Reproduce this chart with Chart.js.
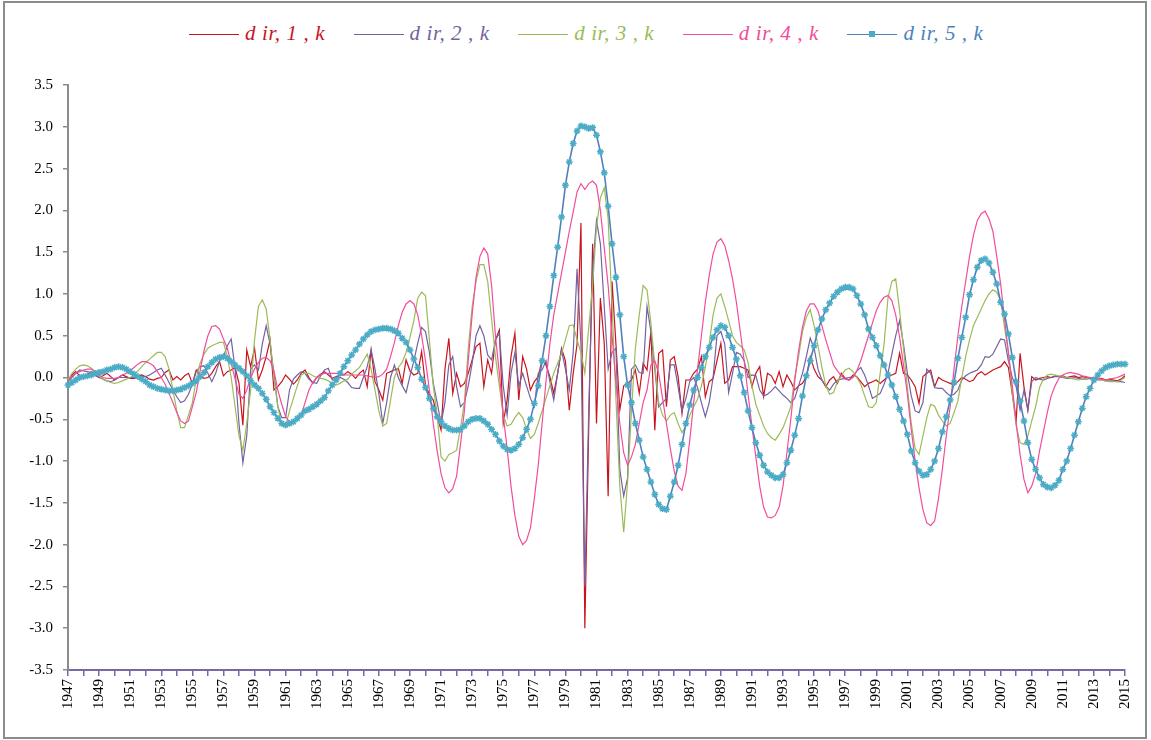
<!DOCTYPE html>
<html>
<head>
<meta charset="utf-8">
<script src="https://cdn.jsdelivr.net/npm/chart.js@4.4.1/dist/chart.umd.min.js"></script>
<style>
  body { margin: 0; background: #fff; }
  #frame { position: absolute; left: 3px; top: 1px; width: 1140px; height: 734px; border: 2px solid #8c8c8c; }
  #wrap { position: absolute; left: 0; top: 0; width: 1151px; height: 740px; }
  .item { position: absolute; top: 21px; height: 26px; font-family: "Liberation Serif", "Times New Roman", serif; font-style: italic; font-size: 21px; letter-spacing: 0.6px; white-space: nowrap; }
  .item .ln { position: absolute; left: 0; top: 13px; width: 50px; height: 0; border-top: 1.5px solid; }
  .item .mk { position: absolute; left: 22px; top: 10px; width: 6px; height: 6px; background: #4bacc6; }
  .item .tx { position: absolute; left: 56px; top: 0; }
</style>
</head>
<body>
<div id="frame"></div>
<div id="legend"></div>
<div id="wrap"><canvas id="chart"></canvas></div>
<script>
// quarterly observations 1947Q1 .. 2015Q1
const firstYear = 1947;
const quarterCount = 273;

const tickYears = ["1947","1949","1951","1953","1955","1957","1959","1961","1963","1965",
  "1967","1969","1971","1973","1975","1977","1979","1981","1983","1985","1987","1989",
  "1991","1993","1995","1997","1999","2001","2003","2005","2007","2009","2011","2013","2015"];

const seriesNames = ["d ir, 1 , k", "d ir, 2 , k", "d ir, 3 , k", "d ir, 4 , k", "d ir, 5 , k"];
const seriesColors = ["#c8141e", "#7462a2", "#9bbb59", "#f24d9a", "#4f81bd"];

const dir1 = [
  -0.05,0.03,0.07,0.02,0.00,0.04,0.07,0.03,0.00,0.02,
  0.05,0.01,-0.03,0.00,0.03,0.01,-0.01,-0.01,0.01,0.03,
  0.01,-0.02,-0.03,-0.01,0.00,0.06,0.09,-0.03,0.01,-0.03,
  0.02,0.05,-0.07,0.09,0.03,-0.01,0.00,0.05,0.13,0.19,
  0.02,0.07,0.09,0.12,-0.07,-0.57,0.33,0.13,0.35,-0.03,
  0.09,0.25,0.45,-0.15,-0.11,-0.05,0.03,-0.02,-0.08,-0.03,
  0.05,0.09,0.00,-0.07,0.00,0.04,0.07,0.03,-0.01,0.01,
  0.03,0.03,0.07,0.04,-0.01,0.05,0.09,-0.11,0.33,-0.05,
  -0.15,-0.27,0.05,0.07,0.09,0.11,-0.07,0.21,0.08,0.03,
  0.05,0.31,-0.10,-0.20,-0.27,-0.47,-0.63,0.10,0.47,-0.19,
  0.05,-0.11,-0.07,0.05,0.21,0.37,0.41,-0.11,0.21,0.05,
  0.45,0.57,-0.55,-0.27,0.25,0.53,-0.27,0.25,0.10,-0.15,
  -0.05,0.01,0.21,0.15,0.01,-0.19,0.05,0.35,0.20,-0.39,
  0.05,0.40,1.85,-3.00,-0.60,1.60,-0.55,0.95,0.40,-1.42,
  1.15,0.40,-0.39,-0.10,-0.07,-0.03,0.09,-0.19,0.17,0.09,
  0.55,-0.63,0.29,0.33,-0.35,0.21,0.25,0.01,-0.43,-0.03,
  -0.03,0.05,0.10,0.25,-0.23,-0.05,-0.01,0.20,0.41,-0.07,
  -0.03,0.13,0.13,0.13,0.11,0.09,-0.11,0.05,0.13,-0.23,
  0.05,0.02,-0.07,0.07,-0.11,0.03,-0.05,-0.15,-0.10,-0.07,
  0.01,0.25,0.10,0.01,-0.03,-0.11,-0.03,0.01,-0.07,0.05,
  -0.01,-0.03,0.03,0.01,-0.05,-0.11,-0.07,-0.05,-0.03,-0.07,
  -0.03,0.01,0.03,0.05,0.29,0.05,0.03,-0.03,-0.11,-0.31,
  0.01,0.05,0.09,-0.11,0.00,-0.03,-0.05,-0.07,-0.09,-0.05,
  0.00,-0.02,-0.05,-0.03,0.04,0.07,0.03,0.06,0.09,0.11,
  0.13,0.19,0.12,-0.20,-0.51,0.29,-0.11,-0.39,0.01,-0.03,
  -0.01,0.00,0.01,0.00,0.02,0.01,0.02,0.00,0.01,0.02,
  0.00,0.01,0.00,-0.01,0.00,-0.02,-0.01,-0.03,-0.02,-0.03,
  -0.04,-0.02,0.02
];

const dir2 = [
  -0.05,0.00,0.05,0.09,0.08,0.07,0.06,0.03,0.00,-0.02,
  -0.04,-0.05,-0.03,0.00,0.00,0.00,0.00,0.00,0.01,0.01,
  0.01,0.03,0.06,0.09,0.11,0.03,-0.06,-0.15,-0.23,-0.30,
  -0.28,-0.20,-0.08,0.07,0.13,0.14,0.05,-0.05,0.05,0.20,
  0.25,0.38,0.46,0.10,-0.55,-1.02,-0.70,0.10,0.15,0.09,
  0.40,0.62,0.40,0.05,-0.35,-0.48,-0.48,-0.15,-0.02,0.03,
  0.07,0.05,-0.02,-0.06,-0.07,0.02,0.09,0.11,-0.03,-0.03,
  0.00,-0.02,-0.06,-0.12,-0.13,-0.13,0.00,0.13,0.33,0.10,
  -0.20,-0.55,-0.30,0.00,0.15,0.00,-0.10,-0.18,0.02,0.20,
  0.41,0.60,0.55,0.30,-0.07,-0.30,-0.55,-0.30,0.15,0.25,
  -0.11,-0.35,-0.30,-0.10,0.17,0.50,0.62,0.50,0.27,0.21,
  0.45,0.53,-0.10,-0.45,0.05,0.30,-0.10,0.05,-0.10,-0.25,
  -0.35,0.05,0.09,0.20,-0.05,-0.27,0.05,0.33,0.10,-0.15,
  0.30,1.30,0.40,-2.50,-0.40,1.30,1.88,1.60,0.85,0.10,
  0.30,0.35,-1.10,-1.42,-1.20,0.10,0.15,0.06,0.05,0.85,
  0.55,0.10,-0.35,-0.30,-0.25,0.15,0.15,-0.11,-0.40,-0.25,
  -0.05,0.00,-0.12,-0.30,-0.47,-0.30,0.00,0.50,0.55,0.40,
  -0.18,0.05,0.30,0.28,0.20,0.00,0.03,0.02,-0.15,-0.22,
  -0.20,-0.16,-0.11,-0.16,-0.21,-0.25,-0.30,-0.25,-0.10,0.05,
  0.25,0.47,0.35,0.10,-0.03,-0.10,-0.15,-0.08,-0.03,-0.02,
  -0.01,0.00,0.01,0.08,0.12,0.03,-0.10,-0.25,-0.22,-0.19,
  -0.08,0.05,0.28,0.50,0.68,0.40,0.05,-0.22,-0.40,-0.42,
  -0.30,0.10,0.05,-0.12,-0.13,-0.13,-0.18,-0.22,-0.20,-0.15,
  -0.03,0.02,0.05,0.07,0.09,0.15,0.25,0.24,0.28,0.37,
  0.46,0.45,0.20,0.00,-0.11,-0.39,-0.15,-0.39,-0.05,0.00,
  -0.02,-0.03,-0.01,0.00,0.01,0.01,0.00,-0.01,-0.01,0.00,
  -0.01,-0.02,-0.02,-0.01,-0.02,-0.03,-0.03,-0.04,-0.04,-0.04,
  -0.05,-0.05,-0.06
];

const dir3 = [
  -0.03,0.05,0.10,0.14,0.15,0.14,0.11,0.07,0.02,-0.02,
  -0.04,-0.06,-0.07,-0.06,-0.04,-0.02,0.00,0.03,0.08,0.13,
  0.18,0.22,0.26,0.30,0.30,0.25,0.10,-0.15,-0.40,-0.60,
  -0.60,-0.45,-0.30,-0.02,0.17,0.28,0.35,0.38,0.40,0.42,
  0.42,0.25,0.00,-0.35,-0.70,-0.87,-0.55,-0.15,0.45,0.85,
  0.93,0.82,0.45,0.00,-0.35,-0.58,-0.58,-0.40,-0.25,-0.10,
  0.03,0.05,0.05,0.02,0.00,-0.01,-0.02,-0.04,-0.07,-0.09,
  -0.07,-0.04,-0.02,0.04,0.08,0.12,0.20,0.28,0.10,-0.15,
  -0.40,-0.58,-0.55,-0.27,0.00,0.12,0.18,0.30,0.48,0.68,
  0.95,1.02,0.98,0.45,-0.10,-0.45,-0.95,-1.00,-0.92,-0.90,
  -0.87,-0.60,-0.30,0.35,0.85,1.15,1.35,1.35,1.15,0.70,
  0.25,-0.10,-0.45,-0.58,-0.56,-0.48,-0.42,-0.48,-0.62,-0.73,
  -0.68,-0.55,-0.40,-0.25,-0.10,0.05,0.17,0.28,0.45,0.62,
  0.63,0.45,0.30,0.05,0.60,1.10,1.80,2.15,2.27,1.90,
  0.85,-0.25,-1.30,-1.85,-1.25,-0.40,0.35,0.75,1.10,1.05,
  0.65,0.15,-0.30,-0.45,-0.52,-0.45,-0.42,-0.55,-0.66,-0.58,
  -0.45,-0.35,-0.26,-0.10,0.12,0.40,0.75,0.95,1.00,0.85,
  0.68,0.50,0.42,0.38,0.33,0.18,-0.10,-0.32,-0.45,-0.58,
  -0.67,-0.72,-0.75,-0.68,-0.60,-0.48,-0.35,0.00,0.25,0.55,
  0.72,0.81,0.62,0.38,0.12,-0.10,-0.20,-0.18,-0.05,0.02,
  0.09,0.11,0.07,0.00,-0.08,-0.22,-0.35,-0.36,-0.30,0.05,
  0.40,0.95,1.15,1.18,0.80,0.35,-0.12,-0.55,-0.85,-0.92,
  -0.70,-0.48,-0.32,-0.34,-0.45,-0.52,-0.58,-0.55,-0.42,-0.28,
  0.00,0.25,0.45,0.62,0.72,0.82,0.92,1.00,1.05,1.02,
  0.92,0.60,0.30,-0.20,-0.58,-0.78,-0.80,-0.70,-0.52,-0.35,
  -0.12,-0.02,0.03,0.04,0.03,0.02,0.01,0.00,-0.01,-0.02,
  -0.03,-0.02,-0.01,0.00,-0.01,-0.02,-0.03,-0.04,-0.05,-0.05,
  -0.05,-0.03,0.00
];

const dir4 = [
  -0.05,0.02,0.05,0.07,0.09,0.10,0.10,0.07,0.03,0.00,
  -0.01,-0.01,-0.01,0.00,0.03,0.05,0.08,0.12,0.16,0.19,
  0.19,0.17,0.14,0.07,0.00,-0.08,-0.19,-0.30,-0.42,-0.52,
  -0.55,-0.52,-0.35,-0.18,0.08,0.32,0.50,0.61,0.62,0.58,
  0.46,0.35,0.17,-0.02,-0.20,-0.25,-0.15,0.00,0.10,0.18,
  0.23,0.24,0.20,0.08,-0.15,-0.32,-0.47,-0.53,-0.53,-0.50,
  -0.45,-0.30,-0.15,-0.06,0.00,0.03,0.05,0.05,0.05,0.05,
  0.04,0.03,0.03,0.03,0.03,0.03,0.03,0.02,0.01,0.00,
  0.01,0.04,0.10,0.25,0.42,0.62,0.78,0.88,0.92,0.88,
  0.75,0.50,0.20,-0.15,-0.55,-0.88,-1.15,-1.32,-1.38,-1.33,
  -1.18,-0.80,-0.40,0.20,0.75,1.20,1.45,1.55,1.48,1.10,
  0.50,0.05,-0.45,-0.85,-1.30,-1.65,-1.90,-2.00,-1.95,-1.80,
  -1.45,-1.05,-0.55,-0.05,0.40,0.75,1.00,1.25,1.50,1.75,
  1.98,2.22,2.32,2.25,2.32,2.35,2.30,2.00,1.55,1.10,
  0.50,-0.05,-0.55,-0.90,-1.05,-0.95,-0.80,-0.55,-0.30,-0.15,
  0.15,0.20,0.05,-0.25,-0.55,-0.85,-1.12,-1.30,-1.35,-1.15,
  -0.75,-0.30,0.10,0.50,0.90,1.22,1.48,1.62,1.66,1.58,
  1.40,1.18,0.90,0.55,0.20,-0.20,-0.58,-0.95,-1.30,-1.55,
  -1.67,-1.68,-1.65,-1.55,-1.30,-0.90,-0.50,-0.05,0.32,0.60,
  0.80,0.88,0.88,0.80,0.62,0.45,0.30,0.15,0.08,0.02,
  -0.02,-0.03,0.00,0.08,0.20,0.35,0.50,0.65,0.80,0.90,
  0.96,0.98,0.92,0.75,0.48,0.15,-0.20,-0.62,-1.00,-1.32,
  -1.58,-1.74,-1.77,-1.72,-1.45,-1.10,-0.70,-0.35,0.10,0.50,
  0.85,1.15,1.45,1.70,1.88,1.96,1.99,1.90,1.75,1.45,
  1.12,0.70,0.30,-0.10,-0.55,-0.92,-1.22,-1.38,-1.30,-1.15,
  -0.88,-0.65,-0.42,-0.22,-0.10,-0.01,0.03,0.05,0.06,0.05,
  0.04,0.02,0.01,0.00,0.00,-0.01,-0.02,-0.03,-0.02,-0.01,
  0.00,0.02,0.04
];

const dir5 = [
  -0.09,-0.06,-0.03,0.00,0.01,0.02,0.03,0.05,0.06,0.07,
  0.09,0.10,0.12,0.13,0.12,0.10,0.07,0.04,0.01,-0.02,
  -0.05,-0.09,-0.11,-0.13,-0.14,-0.15,-0.16,-0.16,-0.15,-0.14,
  -0.12,-0.10,-0.07,-0.04,0.01,0.06,0.13,0.18,0.22,0.24,
  0.25,0.23,0.19,0.15,0.11,0.07,0.02,-0.04,-0.09,-0.13,
  -0.19,-0.26,-0.35,-0.42,-0.49,-0.55,-0.57,-0.55,-0.53,-0.49,
  -0.45,-0.40,-0.38,-0.35,-0.32,-0.28,-0.24,-0.16,-0.09,-0.03,
  0.05,0.13,0.20,0.27,0.33,0.40,0.46,0.51,0.55,0.57,
  0.58,0.59,0.59,0.58,0.56,0.53,0.47,0.42,0.33,0.22,
  0.12,-0.02,-0.12,-0.25,-0.37,-0.47,-0.53,-0.58,-0.61,-0.63,
  -0.63,-0.62,-0.58,-0.53,-0.50,-0.49,-0.49,-0.52,-0.56,-0.62,
  -0.68,-0.76,-0.82,-0.86,-0.87,-0.85,-0.80,-0.72,-0.62,-0.50,
  -0.31,-0.10,0.20,0.50,0.85,1.22,1.56,1.92,2.30,2.58,
  2.80,2.95,3.01,3.00,2.98,2.99,2.90,2.70,2.45,2.05,
  1.60,1.20,0.75,0.25,-0.09,-0.30,-0.55,-0.75,-0.95,-1.10,
  -1.25,-1.40,-1.52,-1.57,-1.58,-1.42,-1.25,-1.05,-0.80,-0.55,
  -0.33,-0.15,0.00,0.12,0.25,0.36,0.48,0.57,0.62,0.60,
  0.50,0.36,0.22,0.02,-0.18,-0.40,-0.60,-0.78,-0.93,-1.05,
  -1.13,-1.17,-1.20,-1.20,-1.16,-1.02,-0.87,-0.69,-0.49,-0.22,
  0.02,0.20,0.38,0.57,0.70,0.81,0.89,0.97,1.02,1.06,
  1.08,1.08,1.06,0.98,0.88,0.75,0.58,0.48,0.38,0.26,
  0.15,0.03,-0.09,-0.23,-0.38,-0.52,-0.68,-0.88,-1.02,-1.12,
  -1.17,-1.16,-1.10,-1.00,-0.85,-0.65,-0.47,-0.27,-0.06,0.23,
  0.48,0.72,0.99,1.17,1.32,1.40,1.42,1.37,1.26,1.12,
  0.90,0.76,0.52,0.24,-0.05,-0.28,-0.52,-0.78,-0.98,-1.10,
  -1.20,-1.28,-1.31,-1.32,-1.29,-1.23,-1.10,-1.00,-0.85,-0.69,
  -0.53,-0.37,-0.23,-0.13,-0.03,0.03,0.08,0.12,0.14,0.15,
  0.16,0.16,0.16
];

const quarters = [];
for (let i = 0; i < quarterCount; i++) {
  quarters.push((firstYear + Math.floor(i / 4)) + "Q" + (i % 4 + 1));
}

const serif = "'Liberation Serif', 'Times New Roman', serif";
const allSeries = [dir1, dir2, dir3, dir4, dir5];

// html legend
const legend = document.getElementById("legend");
seriesNames.forEach((name, k) => {
  const item = document.createElement("div");
  item.className = "item";
  item.style.left = (189 + k * 164.6) + "px";
  item.style.color = seriesColors[k];
  let html = '<span class="ln" style="border-color:' + seriesColors[k] + '"></span>';
  if (k === 4) html += '<span class="mk"></span>';
  html += '<span class="tx">' + name + '</span>';
  item.innerHTML = html;
  legend.appendChild(item);
});

const datasets = allSeries.map((values, k) => ({
  label: seriesNames[k],
  data: values,
  borderColor: seriesColors[k],
  backgroundColor: seriesColors[k],
  borderWidth: k === 4 ? 1.6 : 1.2,
  pointRadius: k === 4 ? 3.4 : 0,
  pointStyle: "star",
  pointBackgroundColor: "#4bacc6",
  pointBorderColor: "#4bacc6",
  pointBorderWidth: 1.5,
  tension: 0,
  order: 5 - k
}));

new Chart(document.getElementById("chart"), {
  type: "line",
  data: { labels: quarters, datasets },
  options: {
    responsive: true,
    maintainAspectRatio: false,
    animation: false,
    layout: { padding: { left: 5, right: 26, top: 85, bottom: 10 } },
    plugins: { legend: { display: false }, tooltip: { enabled: false } },
    scales: {
      x: {
        type: "category",
        offset: false,
        afterFit: (scale) => { scale.height = 60; },
        border: { display: true, color: "#7a68a6", width: 2 },
        grid: {
          drawOnChartArea: false,
          drawTicks: true,
          tickLength: 6,
          lineWidth: 1.5,
          color: (ctx) => (ctx.index % 4 === 0 ? "#7a68a6" : "rgba(0,0,0,0)")
        },
        ticks: {
          autoSkip: false,
          maxRotation: 90,
          minRotation: 90,
          padding: 3,
          color: "#000",
          font: { family: serif, size: 15 },
          callback: (v, i) => (i % 8 === 0 ? tickYears[i / 8] : "")
        }
      },
      y: {
        min: -3.5,
        max: 3.5,
        afterFit: (scale) => { scale.width = 63; },
        border: { display: true, color: "#8c8c8c", width: 2 },
        grid: { drawOnChartArea: false, drawTicks: true, tickLength: 5, color: "#8c8c8c", lineWidth: 1.5 },
        ticks: {
          stepSize: 0.5,
          padding: 10,
          color: "#000",
          font: { family: serif, size: 15 },
          callback: (v) => v.toFixed(1)
        }
      }
    }
  }
});
</script>
</body>
</html>
